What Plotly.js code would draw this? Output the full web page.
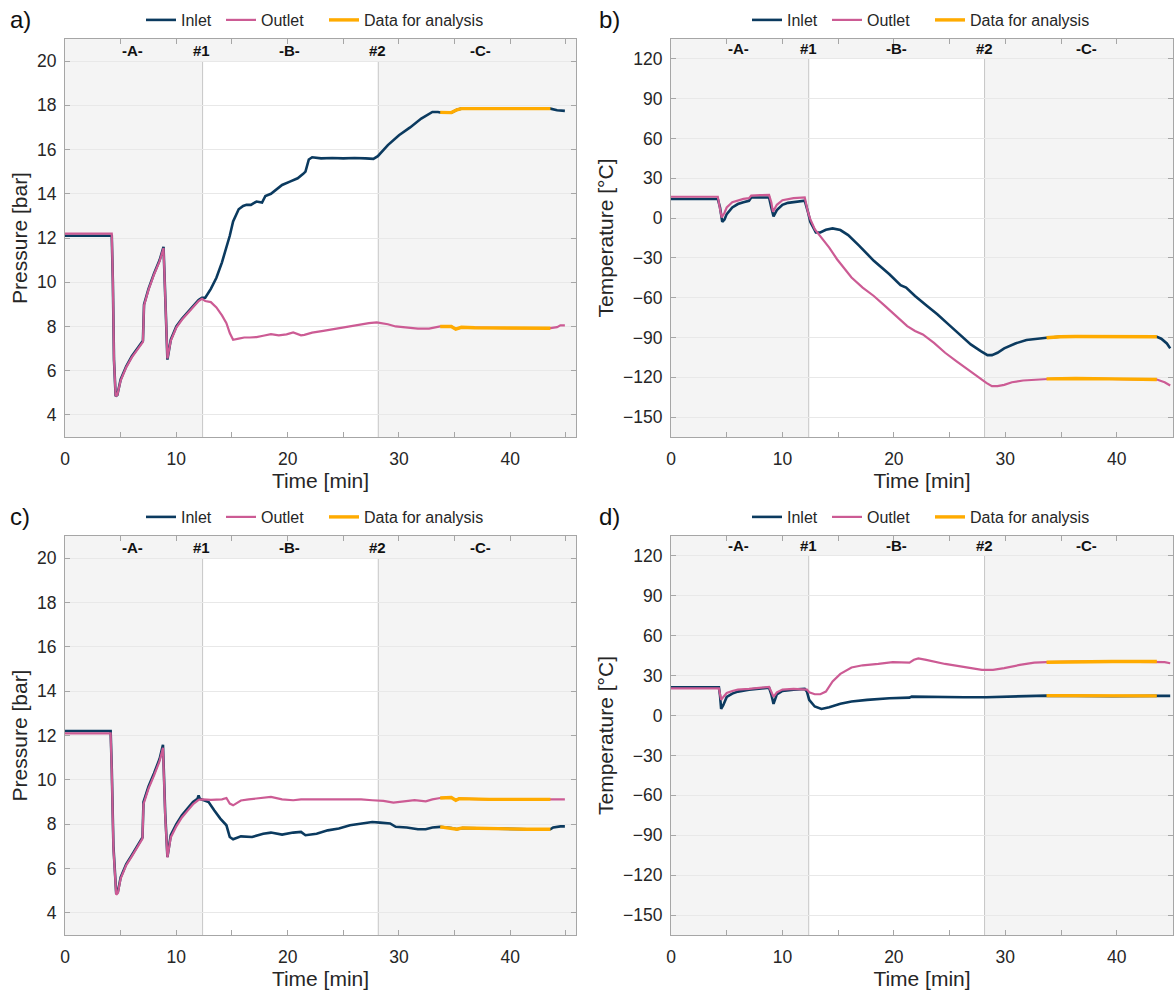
<!DOCTYPE html>
<html>
<head>
<meta charset="utf-8">
<script src="https://cdn.plot.ly/plotly-3.0.1.min.js"></script>
<style>
  html, body { margin: 0; padding: 0; background: #fff; }
  #chart_div { width: 1174px; height: 990px; }
</style>
</head>
<body>
<div id="chart_div"></div>
<script>
// ---- data ----
var phaseBounds = [12.36, 28.14];
var phaseLabels = ['-A-', '#1', '-B-', '#2', '-C-'];
var phaseLabelX = [6.1, 12.3, 20.2, 28.1, 37.3];
var analysisWindow = [33.7, 43.6];
var legendNames = ['Inlet', 'Outlet', 'Data for analysis'];
var panelLetters = ['a)', 'b)', 'c)', 'd)'];

// a) pressure, case 1
var aInT = [0, 4.2, 4.3, 4.4, 4.55, 4.7, 5.0, 5.5, 6.0, 6.5, 7.0, 7.1, 7.5, 8.0, 8.5, 8.85, 9.05, 9.2, 9.5, 10.0, 10.5, 11.0, 11.5, 12.0, 12.3, 12.6, 13.1, 13.6, 14.1, 14.5, 14.8, 15.1, 15.6, 16.0, 16.3, 16.7, 17.2, 17.7, 18.0, 18.5, 19.0, 19.5, 20.2, 20.9, 21.4, 21.6, 21.9, 22.2, 23.0, 24.0, 25.0, 26.0, 27.0, 27.7, 28.1, 29.0, 30.0, 31.0, 32.0, 33.0, 33.5, 33.7, 34.7, 35.2, 35.6, 37.0, 39.0, 41.0, 43.6, 44.2, 44.9];
var aInP = [12.1, 12.1, 10.0, 6.5, 4.85, 4.9, 5.6, 6.2, 6.65, 7.0, 7.35, 9.0, 9.7, 10.4, 11.0, 11.6, 8.5, 6.5, 7.4, 8.0, 8.35, 8.65, 8.95, 9.2, 9.3, 9.3, 9.7, 10.2, 10.9, 11.6, 12.1, 12.75, 13.3, 13.45, 13.5, 13.5, 13.65, 13.6, 13.9, 14.0, 14.2, 14.4, 14.55, 14.7, 14.9, 15.0, 15.55, 15.65, 15.6, 15.62, 15.6, 15.62, 15.6, 15.58, 15.7, 16.2, 16.65, 17.0, 17.4, 17.7, 17.7, 17.68, 17.67, 17.8, 17.85, 17.85, 17.85, 17.85, 17.85, 17.78, 17.75];
var aOutT = [0, 4.2, 4.3, 4.4, 4.55, 4.7, 5.0, 5.5, 6.0, 6.5, 7.0, 7.1, 7.5, 8.0, 8.5, 8.85, 9.05, 9.2, 9.5, 10.0, 10.5, 11.0, 11.5, 12.0, 12.3, 12.6, 13.1, 13.6, 14.1, 14.5, 14.8, 15.1, 15.6, 16.1, 16.6, 17.2, 17.8, 18.5, 19.2, 19.9, 20.5, 21.2, 21.5, 22.2, 23.2, 24.3, 25.3, 26.3, 27.3, 28.0, 29.0, 29.7, 30.7, 31.7, 32.7, 33.5, 33.7, 34.7, 35.1, 35.6, 36.8, 38.1, 39.8, 41.5, 43.6, 44.2, 44.5, 44.9];
var aOutP = [12.2, 12.2, 10.0, 6.5, 4.85, 4.9, 5.55, 6.15, 6.6, 6.95, 7.3, 8.95, 9.65, 10.35, 10.95, 11.55, 8.5, 6.55, 7.35, 7.95, 8.3, 8.6, 8.9, 9.15, 9.25, 9.15, 9.1, 8.86, 8.5, 8.15, 7.7, 7.4, 7.45, 7.5, 7.5, 7.52, 7.58, 7.65, 7.6, 7.64, 7.73, 7.6, 7.62, 7.72, 7.8, 7.9, 8.0, 8.06, 8.15, 8.18, 8.1, 8.0, 7.95, 7.9, 7.9, 8.0, 8.0, 8.0, 7.88, 7.96, 7.94, 7.93, 7.92, 7.92, 7.92, 7.97, 8.05, 8.05];

// b) temperature, case 1
var bInT = [0, 4.2, 4.4, 4.6, 4.8, 5.0, 5.5, 6.0, 6.5, 7.0, 7.2, 8.0, 8.8, 9.0, 9.2, 9.5, 10.0, 10.5, 11.0, 12.0, 12.3, 12.5, 13.0, 13.4, 13.9, 14.5, 15.2, 15.9, 16.9, 18.2, 19.6, 20.6, 21.1, 21.9, 22.9, 23.9, 24.9, 25.9, 26.9, 27.8, 28.4, 28.8, 29.3, 29.9, 30.9, 31.9, 32.9, 33.7, 34.9, 36.3, 39.6, 43.0, 43.6, 44.0, 44.5, 44.8];
var bInC = [14.4, 14.4, 8, -2.8, -1, 3, 8, 10.6, 12, 13, 15.5, 15.6, 15.5, 8, 1.3, 6, 10, 11.5, 12, 13.1, 4.3, -2.8, -10.8, -10.8, -8.8, -7.8, -9, -12.8, -20.9, -32.2, -42.3, -50.6, -52.4, -58.7, -65.7, -72.5, -80.1, -87.7, -95.2, -100.3, -103.3, -103.3, -101.5, -98.2, -94.5, -91.9, -90.7, -90.2, -89.4, -89.2, -89.2, -89.4, -89.4, -90.9, -94.5, -98.2];
var bOutT = [0, 4.2, 4.35, 4.55, 4.8, 5.0, 5.5, 6.0, 6.5, 7.0, 7.2, 8.0, 8.8, 9.0, 9.15, 9.5, 10.0, 11.0, 12.0, 12.3, 12.5, 12.9, 13.5, 14.2, 14.9, 15.6, 16.2, 17.2, 18.2, 19.2, 20.2, 21.2, 21.9, 22.6, 23.6, 24.6, 25.6, 26.6, 27.6, 28.3, 28.8, 29.3, 29.9, 30.6, 31.6, 32.9, 33.7, 34.6, 36.3, 39.6, 43.6, 44.3, 44.8];
var bOutC = [16.1, 16.1, 9, 0.5, 4, 8, 12, 13.5, 14.5, 15, 17, 17.3, 17.5, 12, 4.8, 10, 13.5, 15, 15.6, 4.3, -0.8, -8.3, -14.6, -22.2, -31, -38.5, -44.8, -52.4, -58.7, -66.2, -73.8, -81.4, -85.1, -87.7, -94, -101.5, -107.8, -114.1, -120.4, -124.2, -126.7, -126.7, -125.7, -123.7, -122.4, -121.7, -121.2, -120.9, -120.9, -121.2, -121.7, -123.7, -126.2];

// c) pressure, case 2
var cInT = [0, 4.1, 4.2, 4.35, 4.6, 4.75, 5.0, 5.5, 6.0, 6.5, 6.96, 7.05, 7.5, 8.0, 8.5, 8.8, 9.0, 9.2, 9.5, 10.0, 10.5, 11.0, 11.5, 11.9, 12.0, 12.1, 12.4, 12.9, 13.4, 13.95, 14.5, 14.8, 15.1, 15.8, 16.8, 17.8, 18.5, 19.5, 20.5, 21.2, 21.6, 22.6, 23.6, 24.6, 25.6, 26.6, 27.6, 28.3, 29.2, 29.7, 30.7, 31.7, 32.4, 33.0, 33.7, 34.7, 35.2, 35.7, 38.1, 41.5, 43.6, 43.85, 44.5, 44.9];
var cInP = [12.2, 12.2, 10.5, 7.0, 4.87, 4.95, 5.6, 6.2, 6.6, 7.0, 7.4, 9.0, 9.7, 10.3, 10.95, 11.58, 8.5, 6.52, 7.5, 8.0, 8.4, 8.7, 9.0, 9.15, 9.3, 9.15, 9.08, 9.0, 8.63, 8.25, 7.95, 7.42, 7.32, 7.45, 7.42, 7.57, 7.62, 7.53, 7.62, 7.65, 7.5, 7.57, 7.72, 7.8, 7.95, 8.03, 8.1, 8.07, 8.03, 7.88, 7.85, 7.77, 7.77, 7.85, 7.88, 7.83, 7.77, 7.83, 7.8, 7.77, 7.77, 7.85, 7.9, 7.9];
var cOutT = [0, 4.1, 4.2, 4.35, 4.6, 4.75, 5.0, 5.5, 6.0, 6.5, 6.96, 7.05, 7.5, 8.0, 8.5, 8.8, 9.0, 9.2, 9.5, 10.0, 10.5, 11.0, 11.5, 12.0, 12.4, 13.1, 14.1, 14.5, 14.8, 15.1, 15.8, 16.5, 17.5, 18.5, 19.5, 20.5, 21.2, 22.2, 23.2, 24.3, 25.3, 26.6, 27.6, 28.6, 29.5, 30.3, 31.4, 32.4, 33.0, 33.7, 34.7, 35.1, 35.4, 38.1, 41.5, 43.6, 44.9];
var cOutP = [12.1, 12.1, 10.4, 6.9, 4.82, 4.9, 5.55, 6.15, 6.55, 6.95, 7.35, 8.9, 9.6, 10.2, 10.85, 11.45, 8.4, 6.5, 7.4, 7.9, 8.3, 8.6, 8.9, 9.1, 9.12, 9.1, 9.12, 9.18, 8.93, 8.85, 9.07, 9.12, 9.18, 9.23, 9.12, 9.08, 9.12, 9.12, 9.15, 9.12, 9.15, 9.12, 9.08, 9.05, 8.97, 9.03, 9.08, 9.03, 9.12, 9.18, 9.2, 9.08, 9.15, 9.12, 9.1, 9.12, 9.12];

// d) temperature, case 2
var dInT = [0, 4.3, 4.4, 4.5, 4.7, 5.0, 5.5, 6.0, 7.0, 8.0, 8.8, 9.0, 9.2, 9.5, 10.0, 11.0, 12.0, 12.2, 12.4, 12.9, 13.5, 14.2, 15.2, 16.2, 17.6, 19.6, 21.4, 21.6, 22.9, 26.3, 28.3, 30.6, 33.7, 36.3, 39.6, 43.6, 44.8];
var dInC = [21.3, 21.3, 15, 5.0, 8, 14, 16.5, 18, 19.5, 20.5, 21, 16, 8.8, 16, 18.5, 19.5, 20, 18, 11.8, 6.8, 5.0, 6.3, 8.8, 10.5, 11.8, 13.0, 13.5, 14.2, 14.0, 13.8, 13.8, 14.3, 15.0, 14.8, 14.5, 14.8, 14.8];
var dOutT = [0, 4.3, 4.4, 4.5, 4.7, 5.0, 5.5, 6.0, 7.0, 8.0, 8.8, 9.0, 9.2, 9.5, 10.0, 11.0, 12.0, 12.2, 12.4, 12.9, 13.4, 13.9, 14.5, 15.2, 16.2, 17.2, 18.6, 19.9, 21.4, 21.8, 22.2, 22.9, 24.6, 26.3, 27.9, 28.9, 29.9, 31.3, 32.6, 33.7, 36.3, 39.6, 43.6, 44.3, 44.8];
var dOutC = [20.5, 20.5, 16, 11.8, 14, 17, 18.5, 19.5, 20, 21, 21.5, 18, 14, 17.5, 19.5, 20, 20, 19.5, 17.5, 16, 16, 18, 25.6, 31.3, 36.1, 37.8, 38.8, 40.1, 39.8, 41.9, 42.9, 41.9, 38.8, 36.3, 34.3, 34.3, 35.6, 38.1, 39.8, 40.1, 40.6, 40.6, 40.6, 40.1, 39.3];

// ---- styling ----
var inletColor = '#0b3a5f';
var outletColor = '#cc5b94';
var analysisColor = '#ffab00';
var fontFamily = 'Liberation Sans, Arial, sans-serif';

var W = 1174, H = 990;

// left edge of each legend entry's text, in px, left column / right column
var legendTextLeft = [[183, 263, 366], [789, 869, 972]];

var panels = [
  {x: 'x',  y: 'y',  inT: aInT, inV: aInP, outT: aOutT, outV: aOutP,
   range: [3, 21], top: 20, dtick: 2, xmax: 45.9, title: 'Pressure [bar]',
   left: 65, right: 576, top_px: 39, bottom_px: 437, labelX: 8, col: 0},
  {x: 'x2', y: 'y2', inT: bInT, inV: bInC, outT: bOutT, outV: bOutC,
   range: [-165, 135], top: 120, dtick: 30, xmax: 45.05, title: 'Temperature [°C]',
   left: 671, right: 1173, top_px: 39, bottom_px: 437, labelX: 597, col: 1},
  {x: 'x3', y: 'y3', inT: cInT, inV: cInP, outT: cOutT, outV: cOutP,
   range: [3, 21], top: 20, dtick: 2, xmax: 45.9, title: 'Pressure [bar]',
   left: 65, right: 576, top_px: 536, bottom_px: 935, labelX: 8, col: 0},
  {x: 'x4', y: 'y4', inT: dInT, inV: dInC, outT: dOutT, outV: dOutC,
   range: [-165, 135], top: 120, dtick: 30, xmax: 45.05, title: 'Temperature [°C]',
   left: 671, right: 1173, top_px: 536, bottom_px: 935, labelX: 597, col: 1}
];

function inWindow(t, v) {
  var xs = [], ys = [];
  for (var i = 0; i < t.length; i++) {
    if (t[i] >= analysisWindow[0] && t[i] <= analysisWindow[1]) {
      xs.push(t[i]);
      ys.push(v[i]);
    }
  }
  return {x: xs, y: ys};
}

var data = [];
var layout = {
  width: W, height: H,
  margin: {l: 0, r: 0, t: 0, b: 0},
  paper_bgcolor: '#ffffff',
  plot_bgcolor: '#f4f4f4',
  showlegend: true,
  font: {family: fontFamily, color: '#222222', size: 16},
  shapes: [],
  annotations: []
};

function axisBase() {
  return {
    showline: true, linecolor: '#a6a6a6', linewidth: 1, mirror: 'ticks',
    ticks: 'inside', ticklen: 5, tickcolor: '#a6a6a6', tickwidth: 1,
    zeroline: false, tickfont: {size: 17.5, color: '#262626'},
    fixedrange: true
  };
}

function legendId(n) { return n === 1 ? 'legend' : 'legend' + n; }

panels.forEach(function (p, k) {
  var n = k === 0 ? '' : String(k + 1);
  var xa = axisBase();
  xa.domain = [p.left / W, p.right / W];
  xa.anchor = p.y;
  xa.range = [0, p.xmax];
  xa.dtick = 10; xa.tick0 = 0;
  xa.showgrid = false;
  xa.ticklabelstandoff = 6;
  xa.minor = {dtick: 5, ticks: 'inside', ticklen: 5, tickcolor: '#a6a6a6', showgrid: false};
  xa.title = {text: 'Time [min]', font: {size: 21, color: '#262626'}, standoff: 4};

  var ya = axisBase();
  ya.domain = [1 - p.bottom_px / H, 1 - p.top_px / H];
  ya.anchor = p.x;
  ya.range = p.range;
  ya.dtick = p.dtick; ya.tick0 = 0;
  ya.showgrid = true; ya.gridcolor = '#e8e8e8'; ya.gridwidth = 1;
  ya.ticklabelstandoff = 4;
  ya.title = {text: p.title, font: {size: 21, color: '#262626'}, standoff: 3};

  layout['xaxis' + n] = xa;
  layout['yaxis' + n] = ya;

  // one legend box per entry so the entries sit where they do in the figure
  var lg = [];
  for (var j = 0; j < 3; j++) {
    var id = legendId(k * 3 + j + 1);
    lg.push(id);
    layout[id] = {
      visible: true,
      orientation: 'h', x: (legendTextLeft[p.col][j] - 42) / W, xanchor: 'left',
      y: 1 - (p.top_px - 19) / H, yanchor: 'middle',
      font: {size: 16, color: '#262626'}, bgcolor: 'rgba(0,0,0,0)',
      itemwidth: 30
    };
  }

  data.push({
    type: 'scatter', mode: 'lines', name: legendNames[0], showlegend: true,
    x: p.inT, y: p.inV, xaxis: p.x, yaxis: p.y, legend: lg[0],
    line: {color: inletColor, width: 2.6}
  });
  data.push({
    type: 'scatter', mode: 'lines', name: legendNames[1], showlegend: true,
    x: p.outT, y: p.outV, xaxis: p.x, yaxis: p.y, legend: lg[1],
    line: {color: outletColor, width: 2.2}
  });
  var wIn = inWindow(p.inT, p.inV);
  var wOut = inWindow(p.outT, p.outV);
  data.push({
    type: 'scatter', mode: 'lines', name: legendNames[2], showlegend: true,
    x: wIn.x, y: wIn.y, xaxis: p.x, yaxis: p.y, legend: lg[2],
    line: {color: analysisColor, width: 3.4}
  });
  data.push({
    type: 'scatter', mode: 'lines', name: legendNames[2], showlegend: false,
    x: wOut.x, y: wOut.y, xaxis: p.x, yaxis: p.y, legend: lg[2],
    line: {color: analysisColor, width: 3.4}
  });

  // phase B in white, phases A and C keep the grey background
  layout.shapes.push({
    type: 'rect', xref: p.x, yref: p.y, layer: 'below',
    x0: phaseBounds[0], x1: phaseBounds[1], y0: p.range[0], y1: p.top,
    fillcolor: '#ffffff', line: {width: 0}
  });
  phaseBounds.forEach(function (b) {
    layout.shapes.push({
      type: 'line', xref: p.x, yref: p.y, layer: 'below',
      x0: b, x1: b, y0: p.range[0], y1: p.top,
      line: {color: '#c6c6c6', width: 1}
    });
  });

  phaseLabels.forEach(function (lab, i) {
    layout.annotations.push({
      xref: p.x, yref: p.y, x: phaseLabelX[i], y: p.top + (p.range[1] - p.top) / 2,
      text: '<b>' + lab + '</b>', showarrow: false,
      font: {size: 15, color: '#111111'}, yanchor: 'middle'
    });
  });

  layout.annotations.push({
    xref: 'paper', yref: 'paper', x: p.labelX / W, y: 1 - (p.top_px - 20) / H,
    xanchor: 'left', yanchor: 'middle', showarrow: false,
    text: panelLetters[k], font: {size: 24, color: '#111111'}
  });
});

Plotly.newPlot('chart_div', data, layout, {displayModeBar: false, staticPlot: true});
</script>
</body>
</html>
